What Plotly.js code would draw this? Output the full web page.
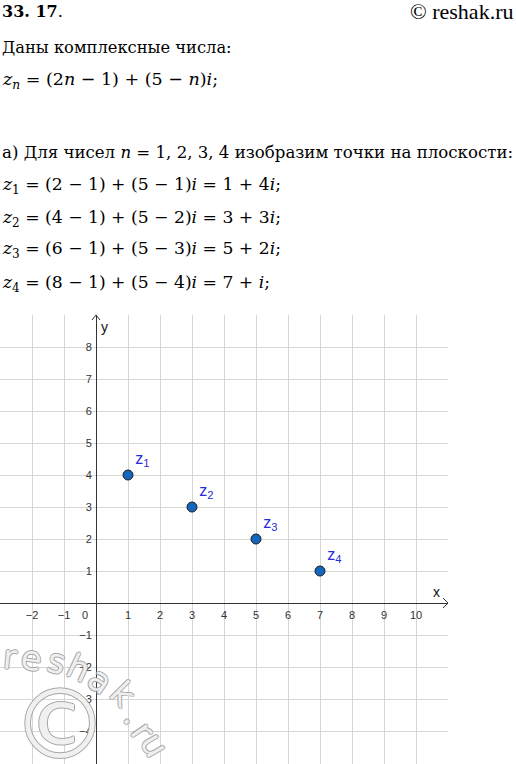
<!DOCTYPE html>
<html>
<head>
<meta charset="utf-8">
<script src="https://cdn.plot.ly/plotly-3.0.1.min.js"></script>
<style>
  html, body { margin: 0; padding: 0; background: #fff; }
  #chart { width: 516px; height: 764px; }
</style>
</head>
<body>
<div id="chart"></div>
<script>
// ---- data ----
const nValues = [1, 2, 3, 4];
const reParts = [1, 3, 5, 7];
const imParts = [4, 3, 2, 1];
const pointLabels = ['z<sub>1</sub>', 'z<sub>2</sub>', 'z<sub>3</sub>', 'z<sub>4</sub>'];

const xTickVals = [-2, -1, 1, 2, 3, 4, 5, 6, 7, 8, 9, 10];
const xTickText = ['\u22122', '\u22121', '1', '2', '3', '4', '5', '6', '7', '8', '9', '10'];
const yTickVals = [-4, -3, -2, -1, 1, 2, 3, 4, 5, 6, 7, 8];
const yTickText = ['\u22124', '\u22123', '\u22122', '\u22121', '1', '2', '3', '4', '5', '6', '7', '8'];

const xRange = [-3, 11];
const yRange = [-5.03, 9];

const headerTitle = '<b>33. 17</b>.';
const headerSource = '© reshak.ru';
const textLines = [
  'Даны комплексные числа:',
  '<i>z<sub>n</sub></i> = (2<i>n</i> − 1) + (5 − <i>n</i>)<i>i</i>;',
  'а) Для чисел <i>n</i> = 1, 2, 3, 4 изобразим точки на плоскости:',
  '<i>z</i><sub>1</sub> = (2 − 1) + (5 − 1)<i>i</i> = 1 + 4<i>i</i>;',
  '<i>z</i><sub>2</sub> = (4 − 1) + (5 − 2)<i>i</i> = 3 + 3<i>i</i>;',
  '<i>z</i><sub>3</sub> = (6 − 1) + (5 − 3)<i>i</i> = 5 + 2<i>i</i>;',
  '<i>z</i><sub>4</sub> = (8 − 1) + (5 − 4)<i>i</i> = 7 + <i>i</i>;'
];
const watermarkLetters = ['r', 'e', 's', 'h', 'a', 'k', '.', 'r', 'u'];

// ---- layout helpers ----
const W = 516, H = 764;
const M = {l: 0, r: 68, t: 315, b: 0};
const plotW = W - M.l - M.r, plotH = H - M.t - M.b;
const px = X => (X - M.l) / plotW;
const py = Y => (H - M.b - Y) / plotH;

const textLineY = [47, 80, 152, 185, 218, 250, 283];
const textLineSize = [16.3, 17.5, 16.6, 17.2, 17.2, 17.2, 17.2];
const serif = 'DejaVu Serif';
const serif2 = 'Liberation Serif';
const sans = 'Liberation Sans';

const annotations = [];
annotations.push({xref: 'paper', yref: 'paper', x: px(0), y: py(11), xanchor: 'left', yanchor: 'middle',
  text: headerTitle, showarrow: false, font: {family: serif, size: 16, color: '#000'}});
annotations.push({xref: 'paper', yref: 'paper', x: px(515), y: py(11), xanchor: 'right', yanchor: 'middle',
  text: headerSource, showarrow: false, font: {family: serif2, size: 22, color: '#000'}});
textLines.forEach((t, i) => {
  annotations.push({xref: 'paper', yref: 'paper', x: px(0), y: py(textLineY[i]), xanchor: 'left', yanchor: 'middle',
    text: t, showarrow: false, font: {family: serif, size: textLineSize[i], color: '#000'}});
});

// axis names and origin label
annotations.push({xref: 'x', yref: 'y', x: xRange[1], y: 0, xanchor: 'center', yanchor: 'bottom',
  xshift: -12, yshift: 1, text: 'x', showarrow: false, font: {family: sans, size: 14, color: '#111'}});
annotations.push({xref: 'x', yref: 'y', x: 0, y: yRange[1], xanchor: 'left', yanchor: 'top',
  xshift: 3, yshift: -2, text: 'y', showarrow: false, font: {family: sans, size: 14, color: '#111'}});
annotations.push({xref: 'x', yref: 'y', x: 0, y: 0, xanchor: 'right', yanchor: 'top',
  xshift: -6, yshift: -4, text: '0', showarrow: false, font: {family: sans, size: 11, color: '#333'}});

// watermark (outlined letters along a curve)
const wmPos = [[10, 657, 5], [31, 658, 8], [57, 661, 14], [79, 668, 25], [100, 680, 35],
               [123, 694, 45], [134, 715, 50], [143, 731, 55], [155, 745, 60]];
const outline = '1px 0 0 #9a9a9a, -1px 0 0 #9a9a9a, 0 1px 0 #9a9a9a, 0 -1px 0 #9a9a9a';
watermarkLetters.forEach((ch, i) => {
  const p = wmPos[i];
  annotations.push({xref: 'paper', yref: 'paper', x: px(p[0]), y: py(p[1]), xanchor: 'center', yanchor: 'middle',
    text: ch, textangle: p[2], showarrow: false,
    font: {family: 'DejaVu Sans', size: 34, color: 'rgba(255,255,255,0.85)', shadow: outline}});
});
annotations.push({xref: 'paper', yref: 'paper', x: px(60), y: py(725), xanchor: 'center', yanchor: 'middle',
  text: '©', showarrow: false,
  font: {family: 'DejaVu Sans', size: 96, color: 'rgba(255,255,255,0.85)', shadow: outline}});

const shapes = [
  {type: 'path', xref: 'x', yref: 'y', xsizemode: 'pixel', ysizemode: 'pixel', xanchor: xRange[1], yanchor: 0,
   path: 'M-5,5 L0,0 L-5,-5', line: {color: '#333', width: 1}},
  {type: 'path', xref: 'x', yref: 'y', xsizemode: 'pixel', ysizemode: 'pixel', xanchor: 0, yanchor: yRange[1],
   path: 'M-4,-5 L0,0 L4,-5', line: {color: '#333', width: 1}}
];

const trace = {
  type: 'scatter', mode: 'markers+text',
  x: reParts, y: imParts, text: pointLabels,
  customdata: nValues,
  textposition: 'top right',
  textfont: {family: sans, size: 16, color: '#2a2ad8'},
  marker: {size: 10, color: '#1565c0', line: {color: '#1a1a1a', width: 1}},
  cliponaxis: false, hoverinfo: 'skip'
};

const layout = {
  width: W, height: H,
  margin: M,
  paper_bgcolor: '#fff', plot_bgcolor: '#fff',
  showlegend: false,
  xaxis: {
    range: xRange, anchor: 'free', position: (0 - yRange[0]) / (yRange[1] - yRange[0]),
    tickmode: 'array', tickvals: xTickVals, ticktext: xTickText,
    showgrid: true, gridcolor: '#d6d6d6', gridwidth: 1,
    zeroline: false, showline: true, linecolor: '#333', linewidth: 1,
    ticks: '', ticklabelstandoff: 2,
    tickfont: {family: sans, size: 11, color: '#333'}, fixedrange: true
  },
  yaxis: {
    range: yRange, anchor: 'free', position: (0 - xRange[0]) / (xRange[1] - xRange[0]),
    tickmode: 'array', tickvals: yTickVals, ticktext: yTickText,
    showgrid: true, gridcolor: '#d6d6d6', gridwidth: 1,
    zeroline: false, showline: true, linecolor: '#333', linewidth: 1,
    ticks: '', ticklabelstandoff: 2,
    tickfont: {family: sans, size: 11, color: '#333'}, fixedrange: true
  },
  annotations: annotations,
  shapes: shapes
};

Plotly.newPlot('chart', [trace], layout, {displayModeBar: false, staticPlot: true});
</script>
</body>
</html>
